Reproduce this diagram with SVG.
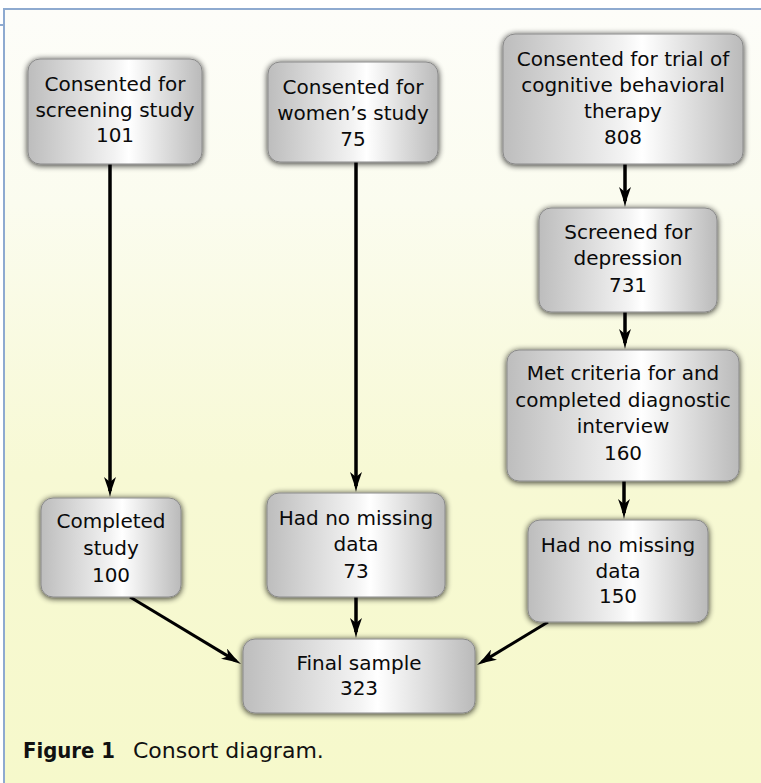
<svg xmlns="http://www.w3.org/2000/svg" width="761" height="783" viewBox="0 0 761 783">
  <defs>
    <linearGradient id="bg" x1="0" y1="0" x2="0" y2="1">
      <stop offset="0" stop-color="#fdfdf9"/>
      <stop offset="0.25" stop-color="#fbfcef"/>
      <stop offset="0.6" stop-color="#f7f9d4"/>
      <stop offset="1" stop-color="#f6f9cb"/>
    </linearGradient>
    <linearGradient id="box" x1="0" y1="0" x2="1" y2="0">
      <stop offset="0" stop-color="#bdbdbd"/>
      <stop offset="0.5" stop-color="#f3f3f3"/>
      <stop offset="0.58" stop-color="#ffffff"/>
      <stop offset="1" stop-color="#bababa"/>
    </linearGradient>
    <filter id="sh" x="-20%" y="-20%" width="140%" height="140%">
      <feGaussianBlur in="SourceAlpha" stdDeviation="3"/>
      <feOffset dx="0" dy="1" result="b"/>
      <feComponentTransfer><feFuncA type="linear" slope="0.85"/></feComponentTransfer>
      <feMerge><feMergeNode/><feMergeNode in="SourceGraphic"/></feMerge>
    </filter>
    <marker id="ah" viewBox="0 0 20 12" refX="14" refY="6" markerWidth="20" markerHeight="12" markerUnits="userSpaceOnUse" orient="auto">
      <path d="M20,6 Q11,4.2 0,0 L5,6 L0,12 Q11,7.8 20,6 Z" fill="#000"/>
    </marker>
  </defs>
  <style>
    .node rect { fill: url(#box); stroke: #8a8a8a; stroke-width: 1; filter: url(#sh); }
    .node text { font-family: "DejaVu Sans", sans-serif; font-size: 20px; fill: #0a0a0a; text-anchor: middle; }
    .conn path { fill: none; stroke: #000; stroke-width: 3.5; marker-end: url(#ah); }
    .conn path.d { stroke-width: 3; }
    .cap { font-family: "DejaVu Sans", sans-serif; fill: #111; }
  </style>
  <rect x="0" y="0" width="761" height="783" fill="#ffffff"/>
  <rect x="4" y="9" width="757" height="774" fill="url(#bg)"/>
  <g id="frame" stroke="#8eaad0" stroke-width="2" fill="none">
    <path d="M4,783 L4,9 L761,9"/>
    <path d="M0,25 L4,25"/>
  </g>

  <g class="conn" id="connectors">
    <path d="M110,164 L110,491"/>
    <path d="M356,162 L356,486"/>
    <path d="M625,164 L625,201"/>
    <path d="M625,312 L625,343"/>
    <path d="M624,481 L624,513"/>
    <path d="M356,597 L356,632"/>
    <path class="d" d="M130,597 L235.9,660.9"/>
    <path class="d" d="M548,622 L482.1,661.9"/>
  </g>

  <g class="node" id="n-screening">
    <rect x="28" y="59" width="174" height="105" rx="12"/>
    <text x="115" y="91">Consented for</text>
    <text x="115" y="117">screening study</text>
    <text x="115" y="142">101</text>
  </g>
  <g class="node" id="n-women">
    <rect x="268" y="62" width="170" height="100" rx="12"/>
    <text x="353" y="94">Consented for</text>
    <text x="353" y="120">women’s study</text>
    <text x="353" y="146">75</text>
  </g>
  <g class="node" id="n-cbt">
    <rect x="503" y="34" width="240" height="130" rx="12"/>
    <text x="623" y="66">Consented for trial of</text>
    <text x="623" y="92">cognitive behavioral</text>
    <text x="623" y="118">therapy</text>
    <text x="623" y="144">808</text>
  </g>
  <g class="node" id="n-screened">
    <rect x="539" y="208" width="178" height="104" rx="12"/>
    <text x="628" y="239">Screened for</text>
    <text x="628" y="265">depression</text>
    <text x="628" y="292">731</text>
  </g>
  <g class="node" id="n-met">
    <rect x="507" y="350" width="232" height="131" rx="12"/>
    <text x="623" y="380">Met criteria for and</text>
    <text x="623" y="406.5">completed diagnostic</text>
    <text x="623" y="433">interview</text>
    <text x="623" y="459.5">160</text>
  </g>
  <g class="node" id="n-nomiss150">
    <rect x="528" y="520" width="180" height="102" rx="12"/>
    <text x="618" y="552">Had no missing</text>
    <text x="618" y="577.5">data</text>
    <text x="618" y="603">150</text>
  </g>
  <g class="node" id="n-completed">
    <rect x="41" y="498" width="140" height="99" rx="12"/>
    <text x="111" y="528">Completed</text>
    <text x="111" y="555">study</text>
    <text x="111" y="582">100</text>
  </g>
  <g class="node" id="n-nomiss73">
    <rect x="267" y="493" width="178" height="104" rx="12"/>
    <text x="356" y="525">Had no missing</text>
    <text x="356" y="551">data</text>
    <text x="356" y="578">73</text>
  </g>
  <g class="node" id="n-final">
    <rect x="243" y="639" width="232" height="74" rx="12"/>
    <text x="359" y="670">Final sample</text>
    <text x="359" y="695">323</text>
  </g>

  <g id="caption">
    <text class="cap" x="23" y="757.5" font-size="20.5" font-weight="bold" textLength="92" lengthAdjust="spacingAndGlyphs">Figure 1</text>
    <text class="cap" x="133" y="757.5" font-size="22">Consort diagram.</text>
  </g>
</svg>
